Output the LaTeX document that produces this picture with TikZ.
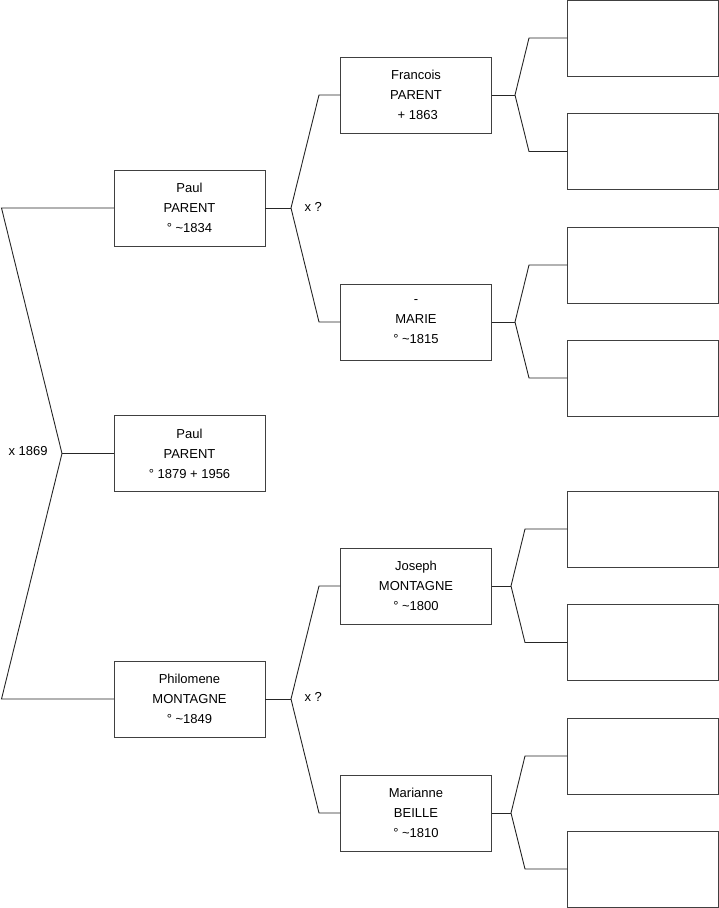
\documentclass[tikz,border=0pt]{standalone}
\usepackage{fontspec}
\setmainfont{Liberation Sans}
\usetikzlibrary{positioning, calc}

\begin{document}
\begin{tikzpicture}[
  x=1pt, y=-1pt,
  person/.style={rectangle, draw=black!75, fill=white,
                 minimum width=151pt, minimum height=76pt, inner sep=0pt,
                 font=\fontsize{13}{20}\selectfont, align=center},
  blank/.style={person},
  link/.style={draw=black!85, line width=0.9pt},
  marr/.style={anchor=west, font=\fontsize{13}{15}\selectfont}
]
\useasboundingbox (0,0) rectangle (719,908);

% generation 1
\node[person] (pp)   at (189.5,208)   {Paul\\PARENT\\° \textasciitilde1834};
\node[person] (root) at (189.5,453.5) {Paul\\PARENT\\° 1879 + 1956};
\node[person] (ph)   at (189.5,699)   {Philomene\\MONTAGNE\\° \textasciitilde1849};

% generation 2
\node[person] (fr) at (416,95)  {Francois\\PARENT\\\ + 1863};
\node[person] (ma) at (416,322) {-\\MARIE\\° \textasciitilde1815};
\node[person] (jo) at (416,586) {Joseph\\MONTAGNE\\° \textasciitilde1800};
\node[person] (mb) at (416,813) {Marianne\\BEILLE\\° \textasciitilde1810};

% generation 3 (empty)
\node[blank] (b1) at (643,38)    {};
\node[blank] (b2) at (643,151.5) {};
\node[blank] (b3) at (643,265)   {};
\node[blank] (b4) at (643,378)   {};
\node[blank] (b5) at (643,529)   {};
\node[blank] (b6) at (643,642.5) {};
\node[blank] (b7) at (643,756)   {};
\node[blank] (b8) at (643,869)   {};

% junctions and bend columns
\coordinate (j0) at (62,453.5);  \coordinate (s0) at (1.5,0);
\coordinate (j1) at (291,208);   \coordinate (s1) at (319,0);
\coordinate (j2) at (291,699);   \coordinate (s2) at (319,0);
\coordinate (j3) at (515,95);    \coordinate (s3) at (529,0);
\coordinate (j4) at (515,322);   \coordinate (s4) at (529,0);
\coordinate (j5) at (511,586);   \coordinate (s5) at (525,0);
\coordinate (j6) at (511,813);   \coordinate (s6) at (525,0);

\draw[link] (root.west) -- (j0);
\draw[link] (pp.west) -- (pp.west -| s0) -- (j0) -- (ph.west -| s0) -- (ph.west);
\node[marr] (m0) at (5,451) {x 1869};

\draw[link] (pp.east) -- (j1);
\draw[link] (fr.west) -- (fr.west -| s1) -- (j1) -- (ma.west -| s1) -- (ma.west);
\node[marr] (m1) at (301,207) {x ?};

\draw[link] (ph.east) -- (j2);
\draw[link] (jo.west) -- (jo.west -| s2) -- (j2) -- (mb.west -| s2) -- (mb.west);
\node[marr] (m2) at (301,697) {x ?};

\draw[link] (fr.east) -- (j3);
\draw[link] (b1.west) -- (b1.west -| s3) -- (j3) -- (b2.west -| s3) -- (b2.west);
\draw[link] (ma.east) -- (j4);
\draw[link] (b3.west) -- (b3.west -| s4) -- (j4) -- (b4.west -| s4) -- (b4.west);
\draw[link] (jo.east) -- (j5);
\draw[link] (b5.west) -- (b5.west -| s5) -- (j5) -- (b6.west -| s5) -- (b6.west);
\draw[link] (mb.east) -- (j6);
\draw[link] (b7.west) -- (b7.west -| s6) -- (j6) -- (b8.west -| s6) -- (b8.west);
\end{tikzpicture}
\end{document}
